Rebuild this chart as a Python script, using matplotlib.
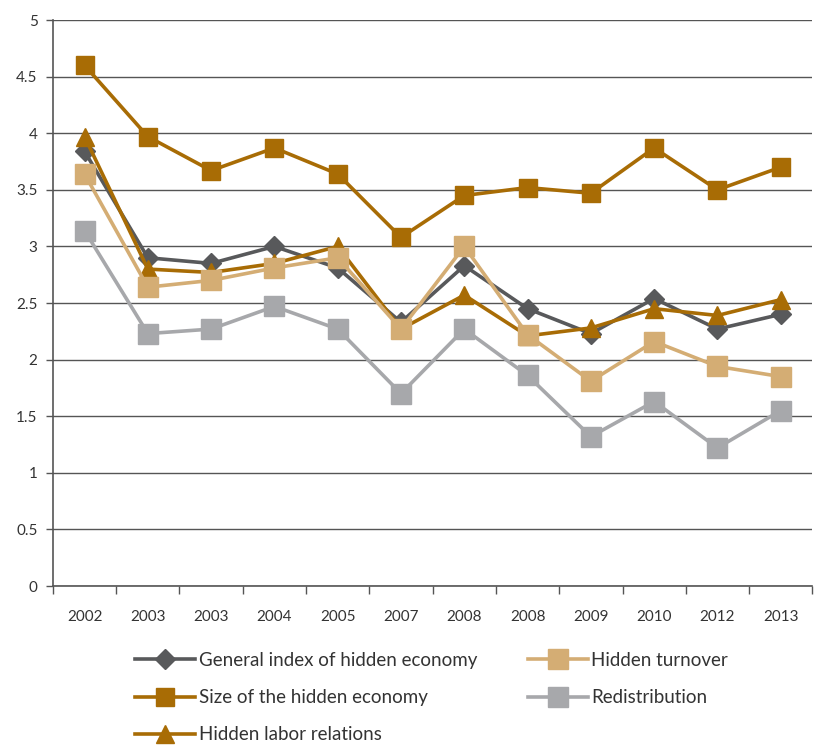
import matplotlib.pyplot as plt
from matplotlib.lines import Line2D

plt.rcParams['font.family'] = ['Lato', 'DejaVu Sans']

# survey waves (two waves in 2003 and 2008)
years = ['2002', '2003', '2003', '2004', '2005', '2007', '2008', '2008', '2009', '2010', '2012', '2013']

general_index = [3.84, 2.90, 2.85, 3.00, 2.81, 2.33, 2.83, 2.45, 2.23, 2.54, 2.27, 2.40]
size_hidden = [4.60, 3.97, 3.67, 3.87, 3.64, 3.08, 3.45, 3.52, 3.47, 3.87, 3.50, 3.70]
labor_rel = [3.97, 2.80, 2.77, 2.85, 3.00, 2.27, 2.57, 2.21, 2.28, 2.45, 2.39, 2.53]
turnover = [3.64, 2.64, 2.70, 2.81, 2.90, 2.27, 3.00, 2.22, 1.81, 2.16, 1.94, 1.85]
redistrib = [3.14, 2.23, 2.27, 2.47, 2.27, 1.70, 2.27, 1.86, 1.32, 1.63, 1.22, 1.55]

c_gen = '#58595b'
c_size = '#a86c05'
c_tur = '#d4ad74'
c_red = '#a7a8ab'

fig = plt.figure(figsize=(8.14, 7.45), dpi=100)
ax = fig.add_axes([0.065, 0.2134, 0.933, 0.7597])

x = list(range(len(years)))
lw = 2.6
ax.plot(x, redistrib, color=c_red, lw=lw, marker='s', ms=15, zorder=3)
ax.plot(x, general_index, color=c_gen, lw=lw, marker='D', ms=10, zorder=4)
ax.plot(x, size_hidden, color=c_size, lw=lw, marker='s', ms=12.5, zorder=5)
ax.plot(x, labor_rel, color=c_size, lw=lw, marker='^', ms=13, zorder=6)
ax.plot(x, turnover, color=c_tur, lw=lw, marker='s', ms=15, zorder=7)

ax.set_ylim(0, 5)
ax.set_xlim(-0.5, len(years) - 0.5)
ax.set_yticks([0, 0.5, 1, 1.5, 2, 2.5, 3, 3.5, 4, 4.5, 5])
ax.set_yticklabels(['0', '0.5', '1', '1.5', '2', '2.5', '3', '3.5', '4', '4.5', '5'])
ax.set_xticks(x)
ax.set_xticklabels(years)
ax.set_xticks([i - 0.5 for i in range(len(years) + 1)], minor=True)
ax.tick_params(axis='x', which='major', length=0, pad=17, labelsize=11, colors='#333333')
ax.tick_params(axis='x', which='minor', length=6, width=1, color='#555555', direction='out')
ax.tick_params(axis='y', length=5, width=1, color='#555555', labelsize=11, labelcolor='#333333', pad=6)
ax.grid(axis='y', color='#555555', lw=1)
ax.set_axisbelow(True)
for s in ['top', 'right']:
    ax.spines[s].set_visible(False)
ax.spines['left'].set_color('#555555')
ax.spines['bottom'].set_color('#555555')
ax.spines['left'].set_linewidth(1.2)
ax.spines['bottom'].set_linewidth(1.2)

handles = [
    Line2D([], [], color=c_gen, lw=lw, marker='D', ms=10),
    Line2D([], [], color=c_size, lw=lw, marker='s', ms=12.5),
    Line2D([], [], color=c_size, lw=lw, marker='^', ms=13),
    Line2D([], [], color=c_tur, lw=lw, marker='s', ms=15),
    Line2D([], [], color=c_red, lw=lw, marker='s', ms=15),
]
labels = ['General index of hidden economy', 'Size of the hidden economy',
          'Hidden labor relations', 'Hidden turnover', 'Redistribution']
fig.legend(handles, labels, ncol=2, loc='upper left', bbox_to_anchor=(0.145, 0.1475),
           frameon=False, fontsize=13.5, handlelength=3.2, columnspacing=2.7,
           labelspacing=1.08, handletextpad=0.2, labelcolor='#333333')

fig.savefig('out.png', dpi=100)
